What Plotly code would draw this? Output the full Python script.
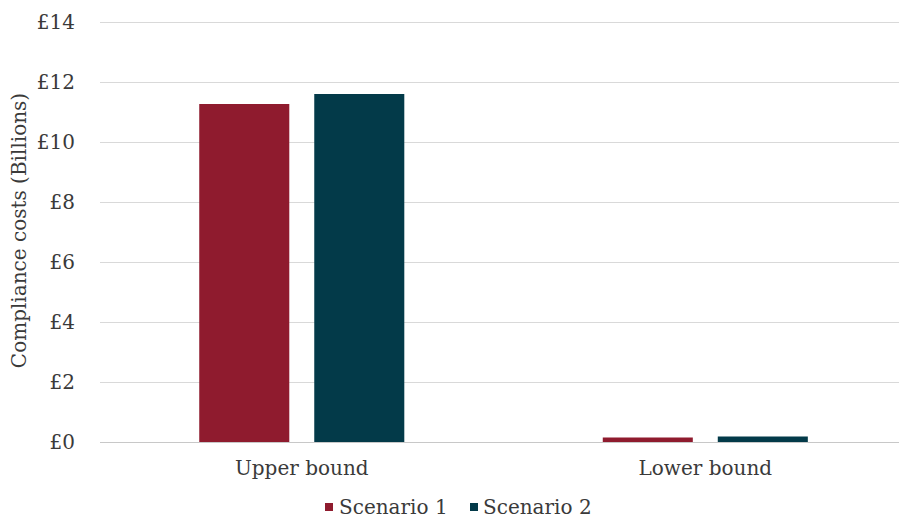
import plotly.graph_objects as go

categories = ["Upper bound", "Lower bound"]
scenario_1 = [11.27, 0.15]
scenario_2 = [11.6, 0.18]
series_names = ["Scenario 1", "Scenario 2"]
series_colors = ["#8f1b2e", "#033a49"]
tick_values = [0, 2, 4, 6, 8, 10, 12, 14]
tick_labels = ["£0", "£2", "£4", "£6", "£8", "£10", "£12", "£14"]

FONT = "DejaVu Serif"
TEXT = "#3a3a3a"
SIZE = 20

fig = go.Figure()
for name, values, color in zip(series_names, [scenario_1, scenario_2], series_colors):
    fig.add_trace(go.Bar(name=name, x=categories, y=values,
                         marker=dict(color=color, line=dict(width=0))))

# Legend row below the plot: small colour squares followed by the series names
PLOT_L, PLOT_W = 100, 799
PLOT_B, PLOT_H = 442, 423
legend_items = [(325, 337), (470, 481)]  # square left edge, text left edge (px)
for (sq_x, tx_x), name, color in zip(legend_items, series_names, series_colors):
    fig.add_shape(type="rect", xref="paper", yref="paper",
                  x0=(sq_x - PLOT_L) / PLOT_W, x1=(sq_x + 8 - PLOT_L) / PLOT_W,
                  y0=(PLOT_B - 511) / PLOT_H, y1=(PLOT_B - 503) / PLOT_H,
                  fillcolor=color, line=dict(width=0))
    fig.add_annotation(text=name, xref="paper", yref="paper",
                       x=(tx_x - PLOT_L) / PLOT_W, y=(PLOT_B - 507) / PLOT_H,
                       xanchor="left", yanchor="middle", showarrow=False,
                       font=dict(family=FONT, size=SIZE, color=TEXT))

fig.update_layout(
    width=899, height=518,
    margin=dict(l=PLOT_L, r=0, t=19, b=76),
    paper_bgcolor="white", plot_bgcolor="white",
    barmode="group", bargap=0.43, bargroupgap=0.217,
    font=dict(family=FONT, size=SIZE, color=TEXT),
    showlegend=False,
    xaxis=dict(range=[-0.5, 1.48], showgrid=False, showline=False,
               ticks="", ticklabelstandoff=12,
               tickfont=dict(family=FONT, size=SIZE, color=TEXT)),
    yaxis=dict(range=[0, 14.1], tickvals=tick_values, ticktext=tick_labels,
               showgrid=True, gridcolor="#d9d9d9", gridwidth=1,
               zeroline=True, zerolinecolor="#c8c8c8", zerolinewidth=1,
               showline=False, ticks="", ticklabelstandoff=24,
               tickfont=dict(family=FONT, size=SIZE, color=TEXT),
               title=dict(text="Compliance costs (Billions)", standoff=4,
                          font=dict(family=FONT, size=SIZE, color=TEXT))),
)

fig.write_html("out.html")
